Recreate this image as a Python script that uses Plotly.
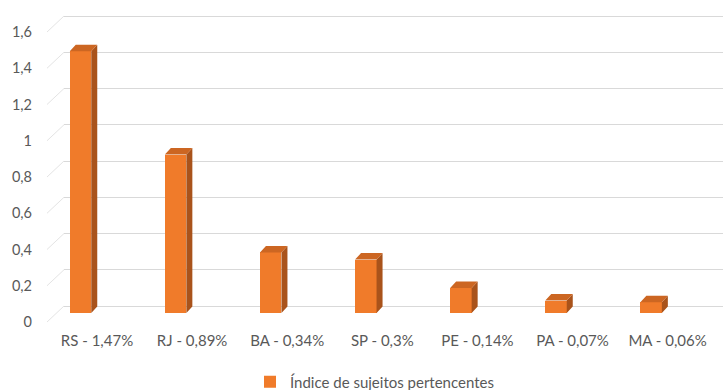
import plotly.graph_objects as go

# ---------------- data ----------------
categories = ["RS - 1,47%", "RJ - 0,89%", "BA - 0,34%", "SP - 0,3%",
              "PE - 0,14%", "PA - 0,07%", "MA - 0,06%"]
values = [1.47, 0.89, 0.34, 0.30, 0.14, 0.07, 0.06]
series_name = "Índice de sujeitos pertencentes"
y_ticks = [0, 0.2, 0.4, 0.6, 0.8, 1.0, 1.2, 1.4, 1.6]

# ---------------- layout geometry (pixels) ----------------
W, H = 723, 390
L, R, T, B = 64, 0, 8, 60
plot_w = W - L - R
plot_h = H - T - B
bottom_px = T + plot_h

px_per_cat = 95.1
first_label_px = 97.0
x_lo = -(first_label_px - L) / px_per_cat
x_hi = x_lo + plot_w / px_per_cat


def y_range(zero_px, ppu):
    return [-(bottom_px - zero_px) / ppu, (zero_px - T) / ppu]


grid_zero_px, grid_ppu = 306.0, 181.25   # back wall
bar_zero_px, bar_ppu = 313.0, 178.0      # front plane of the bars

# bar styling (3D look)
front_off = -16.5 / px_per_cat
bar_w = 21.5 / px_per_cat
dx = 6.0 / px_per_cat
dy = 6.5 / bar_ppu

FRONT = "#F07B2A"
SIDE = "#A9531B"
TOP = "#CC6622"
TXT = "#595959"
GRID = "#D9D9D9"

xs = [i + front_off for i in range(len(values))]

side_x, side_y, top_x, top_y = [], [], [], []
for xc, v in zip(xs, values):
    xl, xr = xc - bar_w / 2, xc + bar_w / 2
    side_x += [xr, xr + dx, xr + dx, xr, xr, None]
    side_y += [0, dy, v + dy, v, 0, None]
    top_x += [xl, xl + dx, xr + dx, xr, xl, None]
    top_y += [v, v + dy, v + dy, v, v, None]

fig = go.Figure()
fig.add_trace(go.Bar(x=xs, y=values, width=bar_w, name=series_name,
                     marker=dict(color=FRONT, line=dict(width=0)),
                     yaxis="y2", showlegend=True, hoverinfo="skip"))
fig.add_trace(go.Scatter(x=side_x, y=side_y, fill="toself", fillcolor=SIDE,
                         mode="lines", line=dict(width=0, color=SIDE),
                         yaxis="y2", showlegend=False, hoverinfo="skip"))
fig.add_trace(go.Scatter(x=top_x, y=top_y, fill="toself", fillcolor=TOP,
                         mode="lines", line=dict(width=0, color=TOP),
                         yaxis="y2", showlegend=False, hoverinfo="skip"))

shapes = []
for t in y_ticks:
    shapes.append(dict(type="line", xref="paper", yref="y",
                       xsizemode="pixel", xanchor=0, x0=-17, x1=0,
                       ysizemode="pixel", yanchor=t, y0=-16, y1=0,
                       line=dict(color="#E4E4E4", width=1), layer="below"))

font_family = "Lato, 'Open Sans', sans-serif"

fig.update_layout(
    width=W, height=H,
    margin=dict(l=L, r=R, t=T, b=B),
    paper_bgcolor="white", plot_bgcolor="white",
    separators=",.",
    font=dict(family=font_family, size=15, color=TXT),
    showlegend=True,
    legend=dict(orientation="h", xref="container", x=250 / W, xanchor="left",
                yref="container", y=(H - 382) / H, yanchor="middle",
                font=dict(size=15, color=TXT), itemwidth=30),
    xaxis=dict(range=[x_lo, x_hi], tickmode="array",
               tickvals=list(range(len(categories))), ticktext=categories,
               showgrid=False, zeroline=False, showline=False, ticks="",
               tickfont=dict(size=15, color=TXT), fixedrange=True),
    yaxis=dict(range=y_range(grid_zero_px, grid_ppu), tickmode="array",
               tickvals=y_ticks, showgrid=True, gridcolor=GRID, gridwidth=1.3,
               zeroline=False, showline=False, ticks="",
               ticklabelshift=16, ticklabelstandoff=31,
               tickfont=dict(size=14.5, color=TXT), fixedrange=True),
    yaxis2=dict(range=y_range(bar_zero_px, bar_ppu), overlaying="y",
                showgrid=False, zeroline=False, showline=False,
                showticklabels=False, ticks="", fixedrange=True),
    shapes=shapes,
    bargap=0,
)

fig.write_html("out.html")
